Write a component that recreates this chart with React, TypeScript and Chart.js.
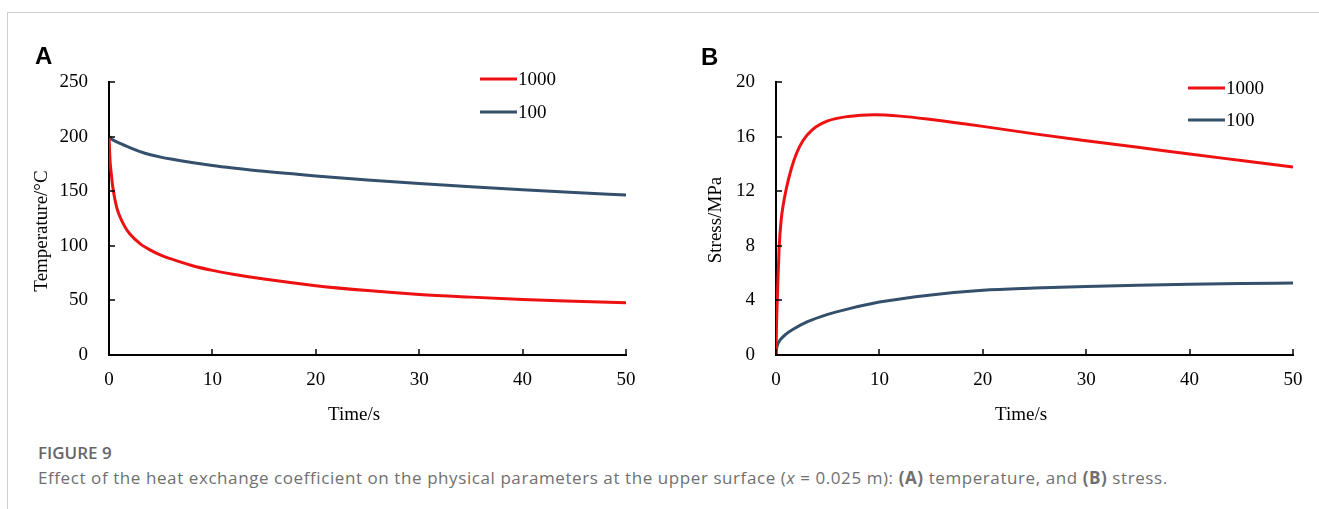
import React, { useEffect, useRef } from "react";
import { Chart, registerables } from "chart.js";

Chart.register(...registerables);

const SERIF = "'Liberation Serif', 'Times New Roman', serif";

// ---- Data ----
const seriesLabels = ["1000", "100"];

// Panel A: temperature (°C) vs time (s)
const tempTime1000 = [0, 0.1, 0.2, 0.35, 0.5, 0.75, 1, 1.5, 2, 3, 4, 5, 6, 8, 10, 12, 15, 20, 25, 30, 35, 40, 45, 50];
const temp1000 = [200, 178, 168, 155, 146, 135, 128, 118, 111, 102, 96, 91.5, 88, 82, 77.5, 74, 69.5, 63.5, 59, 55.5, 53, 50.8, 49.2, 47.8];
const tempTime100 = [0, 0.25, 0.5, 1, 2, 3, 4, 5, 6, 8, 10, 12, 15, 20, 25, 30, 35, 40, 45, 50];
const temp100 = [200, 197.8, 196.3, 194, 190, 186.3, 183.4, 181.2, 179.4, 176.3, 173.6, 171.3, 168.2, 164, 160.3, 157, 154, 151.3, 148.8, 146.5];

// Panel B: stress (MPa) vs time (s)
const stressTime1000 = [0, 0.05, 0.13, 0.3, 0.5, 0.7, 1, 1.5, 2, 2.6, 3.5, 5, 7, 9.5, 12, 15, 20, 25, 30, 35, 40, 45, 50];
const stress1000 = [0, 2.2, 4.2, 7.8, 9.9, 11.0, 12.2, 13.7, 14.8, 15.7, 16.5, 17.15, 17.48, 17.6, 17.5, 17.25, 16.75, 16.2, 15.7, 15.22, 14.72, 14.25, 13.78];
const stressTime100 = [0, 0.05, 0.15, 0.4, 1, 1.7, 3, 5, 7, 10, 15, 20, 25, 30, 35, 40, 45, 50];
const stress100 = [0, 0.45, 0.75, 1.1, 1.55, 1.9, 2.42, 2.98, 3.38, 3.88, 4.4, 4.74, 4.9, 5.02, 5.11, 5.18, 5.23, 5.27];

// Axis ticks
const timeMin = 0;
const timeMax = 50;
const timeStep = 10;
const tempMax = 250;
const tempStep = 50;
const stressMax = 20;
const stressStep = 4;

const seriesColors = ["#ee1111", "#34506c"];

function pairs(xs: number[], ys: number[]) {
  return xs.map((x, i) => ({ x, y: ys[i] }));
}

const decorPlugin = {
  id: "decor",
  afterDraw(chart: any, _args: any, opts: any) {
    const ctx = chart.ctx as CanvasRenderingContext2D;
    const { left, right, top, bottom } = chart.chartArea;
    const xs = chart.scales.x;
    const ys = chart.scales.y;
    ctx.save();
    // inward tick marks
    ctx.strokeStyle = "#000";
    ctx.lineWidth = 1.5;
    ys.ticks.forEach((t: any) => {
      const p = Math.round(ys.getPixelForValue(t.value));
      ctx.beginPath();
      ctx.moveTo(left, p);
      ctx.lineTo(left + 6, p);
      ctx.stroke();
    });
    xs.ticks.forEach((t: any) => {
      const p = Math.round(xs.getPixelForValue(t.value));
      ctx.beginPath();
      ctx.moveTo(p, bottom);
      ctx.lineTo(p, bottom - 6);
      ctx.stroke();
    });
    // axis titles
    ctx.fillStyle = "#000";
    ctx.font = `19px ${SERIF}`;
    ctx.textAlign = "center";
    ctx.textBaseline = "alphabetic";
    ctx.fillText(opts.xTitle, (left + right) / 2 + opts.xTitleDx, bottom + opts.xTitleDy);
    ctx.save();
    ctx.translate(left + opts.yTitleDx, (top + bottom) / 2 + opts.yTitleDy);
    ctx.rotate(-Math.PI / 2);
    ctx.textBaseline = "middle";
    ctx.fillText(opts.yTitle, 0, 0);
    ctx.restore();
    // legend
    chart.data.datasets.forEach((ds: any, i: number) => {
      const y = top + opts.legendDy[i];
      const x0 = right - opts.legendDx;
      ctx.strokeStyle = ds.borderColor;
      ctx.lineWidth = 3;
      ctx.beginPath();
      ctx.moveTo(x0, y);
      ctx.lineTo(x0 + 37, y);
      ctx.stroke();
      ctx.fillStyle = "#000";
      ctx.textAlign = "left";
      ctx.textBaseline = "middle";
      ctx.fillText(ds.label, x0 + 38, y + 1);
    });
    ctx.restore();
  },
};

type PanelProps = {
  left: number;
  width: number;
  height: number;
  yWidth: number;
  padRight: number;
  yMax: number;
  yStep: number;
  series: { x: number; y: number }[][];
  decor: any;
};

function Panel(p: PanelProps) {
  const ref = useRef<HTMLCanvasElement>(null);
  useEffect(() => {
    if (!ref.current) return;
    const chart = new Chart(ref.current, {
      type: "line",
      data: {
        datasets: p.series.map((d, i) => ({
          label: seriesLabels[i],
          data: d,
          borderColor: seriesColors[i],
          backgroundColor: seriesColors[i],
          borderWidth: 3,
          pointRadius: 0,
          cubicInterpolationMode: "monotone" as const,
          fill: false,
        })),
      },
      options: {
        animation: false,
        responsive: false,
        maintainAspectRatio: false,
        layout: { padding: { left: 0, top: 82, right: p.padRight, bottom: p.height - 355 - 40 } },
        plugins: {
          legend: { display: false },
          tooltip: { enabled: false },
          decor: p.decor,
        } as any,
        scales: {
          x: {
            type: "linear",
            min: timeMin,
            max: timeMax,
            grid: { display: false, drawTicks: false },
            border: { display: true, color: "#000", width: 2 },
            ticks: { stepSize: timeStep, padding: 14, color: "#000", font: { family: SERIF, size: 19 } },
            afterFit: (s: any) => {
              s.height = 40;
            },
          },
          y: {
            type: "linear",
            min: 0,
            max: p.yMax,
            grid: { display: false, drawTicks: false },
            border: { display: true, color: "#000", width: 2 },
            ticks: { stepSize: p.yStep, padding: 21, color: "#000", font: { family: SERIF, size: 19 } },
            afterFit: (s: any) => {
              s.width = p.yWidth;
            },
          },
        },
      },
      plugins: [decorPlugin],
    });
    return () => chart.destroy();
  }, []);
  return (
    <canvas
      ref={ref}
      width={p.width}
      height={p.height}
      style={{ position: "absolute", left: p.left, top: 0, width: p.width, height: p.height }}
    />
  );
}

export default function App() {
  return (
    <div style={{ position: "absolute", left: 0, top: 0, width: 1319, height: 509, background: "#fff", overflow: "hidden" }}>
      <div
        style={{
          position: "absolute",
          left: 7,
          top: 12,
          right: 0,
          bottom: 0,
          borderTop: "1px solid #cfcfcf",
          borderLeft: "1px solid #cfcfcf",
        }}
      />
      <Panel
        left={0}
        width={660}
        height={440}
        yWidth={109}
        padRight={34}
        yMax={tempMax}
        yStep={tempStep}
        series={[pairs(tempTime1000, temp1000), pairs(tempTime100, temp100)]}
        decor={{
          xTitle: "Time/s",
          yTitle: "Temperature/°C",
          xTitleDx: -13.5,
          xTitleDy: 65,
          yTitleDx: -67,
          yTitleDy: 12.5,
          legendDx: 146,
          legendDy: [-3, 30],
        }}
      />
      <Panel
        left={660}
        width={659}
        height={440}
        yWidth={116}
        padRight={26}
        yMax={stressMax}
        yStep={stressStep}
        series={[pairs(stressTime1000, stress1000), pairs(stressTime100, stress100)]}
        decor={{
          xTitle: "Time/s",
          yTitle: "Stress/MPa",
          xTitleDx: -13.5,
          xTitleDy: 65,
          yTitleDx: -60,
          yTitleDy: 1.5,
          legendDx: 105,
          legendDy: [6, 38],
        }}
      />
      <div
        style={{
          position: "absolute",
          left: 35,
          top: 44,
          font: "bold 24px 'Liberation Sans', Arial, sans-serif",
          lineHeight: "24px",
          color: "#000",
        }}
      >
        A
      </div>
      <div
        style={{
          position: "absolute",
          left: 701,
          top: 45,
          font: "bold 24px 'Liberation Sans', Arial, sans-serif",
          lineHeight: "24px",
          color: "#000",
        }}
      >
        B
      </div>
      <div
        style={{
          position: "absolute",
          left: 38,
          top: 441,
          font: "600 17px 'Open Sans', sans-serif",
          color: "#666",
          whiteSpace: "nowrap",
        }}
      >
        FIGURE 9
      </div>
      <div
        style={{
          position: "absolute",
          left: 38,
          top: 466,
          font: "400 17px 'Open Sans', sans-serif",
          letterSpacing: "0.58px",
          color: "#707070",
          whiteSpace: "nowrap",
        }}
      >
        Effect of the heat exchange coefficient on the physical parameters at the upper surface (<i>x</i> = 0.025 m):{" "}
        <b>(A)</b> temperature, and <b>(B)</b> stress.
      </div>
    </div>
  );
}
